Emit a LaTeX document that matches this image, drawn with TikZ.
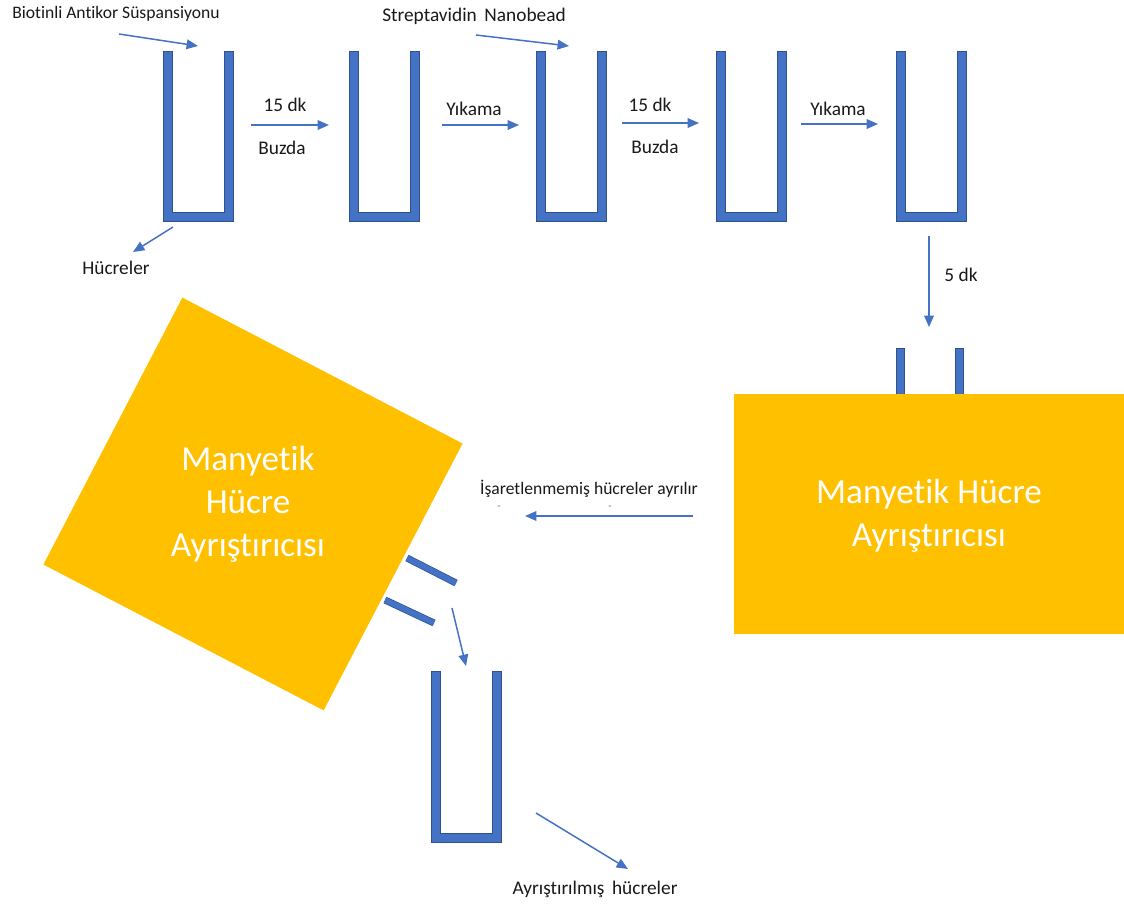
\documentclass[tikz,border=0pt]{standalone}
\usepackage{fontspec}
\setmainfont{Carlito}[Ligatures=NoCommon]
\usetikzlibrary{arrows.meta,positioning}
\definecolor{tubeblue}{HTML}{4472C4}
\definecolor{tubeedge}{HTML}{2F528F}
\definecolor{sepyellow}{HTML}{FFC000}

\tikzset{
  arr/.style={tubeblue,line width=0.85pt,-{Triangle[length=6.5pt,width=5.5pt]}},
  lbl/.style={font=\fontsize{11}{13}\selectfont,text=black!90,inner sep=1pt},
  smalllbl/.style={lbl,font=\fontsize{10}{12}\selectfont},
  tubewall/.style={fill=tubeblue,draw=tubeedge,line width=0.4pt},
  stubline/.style={draw=tubeedge,line width=0.4pt,double=tubeblue,double distance=3.2pt},
  sepbox/.style={fill=sepyellow,inner sep=0pt,minimum width=7.8cm,minimum height=4.8cm},
  septext/.style={text=white,align=center,font=\fontsize{20}{24.5}\selectfont},
}

\begin{document}
\begin{tikzpicture}[x=0.02cm,y=-0.02cm]
            \useasboundingbox (0,0) rectangle (1124,906);
            % Tubes (top row)
            \foreach \n/\x in {1/163,2/349,3/536,4/716,5/896}{
                \draw[tubewall] (\x,51) -- ++(9,0) -- ++(0,161) -- ++(52,0)
                    -- ++(0,-161) -- ++(9,0) -- ++(0,170) -- ++(-70,0) -- cycle;
                \coordinate (t\n) at (\x+35,136);
            }
            % Tube (bottom)
            \draw[tubewall] (431,671) -- ++(9,0) -- ++(0,162) -- ++(52,0)
                -- ++(0,-162) -- ++(9,0) -- ++(0,171) -- ++(-70,0) -- cycle;
            \coordinate (t6) at (466,756);

            % Labels
            \node[smalllbl] (biot) at (116,14) {Biotinli Antikor Süspansiyonu};
            \node[lbl] (hucr) at (116,268) {Hücreler};
            \node[lbl] (strep) at (474,16) {Streptavidin\, Nanobead};
            \node[lbl] (dk1) at (285,105) {15 dk};
            \node[lbl] (buz1) at (282,148) {Buzda};
            \node[lbl] (yik1) at (474,109) {Yıkama};
            \node[lbl] (dk2) at (650,105) {15 dk};
            \node[lbl] (buz2) at (655,147) {Buzda};
            \node[lbl] (yik2) at (838,109) {Yıkama};
            \node[lbl] (dk5) at (961,275) {5 dk};
            \node[smalllbl] (isar) at (589,489) {İşaretlenmemiş hücreler ayrılır};
            \node[lbl,text=black!60,font=\fontsize{6}{7}\selectfont] (dashA) at (499,508) {-};
            \node[lbl,text=black!60,font=\fontsize{6}{7}\selectfont] (dashB) at (610,508) {-};
            \node[lbl] (ayr) at (595,889) {Ayrıştırılmış\, hücreler};

            % Separators
            \draw[tubewall] (896,348) rectangle (904,394);
            \draw[tubewall] (955,348) rectangle (963,394);
            \node[sepbox] (sepR) at (929,514) {};
            \node[septext] (sepRtxt) at (929,516) {Manyetik Hücre\\Ayrıştırıcısı};
            \node[sepbox,minimum width=6.32cm,minimum height=6.02cm,rotate=-27.5] (sepL) at (253,504) {};
            \node[septext] (sepLtxt) at (248,504) {Manyetik\\Hücre\\Ayrıştırıcısı};
            \draw[stubline] (407,558) -- (456,583);
            \draw[stubline] (385,600) -- (434,623);

            % Arrows
            \coordinate (a1s) at (119,34);   \coordinate (a1e) at (198,46);
            \coordinate (a2s) at (173,227);  \coordinate (a2e) at (133,252);
            \coordinate (a3s) at (251,125);  \coordinate (a3e) at (329,125);
            \coordinate (a4s) at (442,125);  \coordinate (a4e) at (519,125);
            \coordinate (a5s) at (476,35);   \coordinate (a5e) at (569,46);
            \coordinate (a6s) at (622,123);  \coordinate (a6e) at (699,123);
            \coordinate (a7s) at (801,124);  \coordinate (a7e) at (878,124);
            \coordinate (a8s) at (929,236);  \coordinate (a8e) at (929,327);
            \coordinate (a9s) at (693,516);  \coordinate (a9e) at (525,516);
            \coordinate (a10s) at (452,608); \coordinate (a10e) at (466,666);
            \coordinate (a11s) at (536,813); \coordinate (a11e) at (628,869);
            \foreach \i in {1,...,11}
                \draw[arr] (a\i s) -- (a\i e);
           \end{tikzpicture}
\end{document}
